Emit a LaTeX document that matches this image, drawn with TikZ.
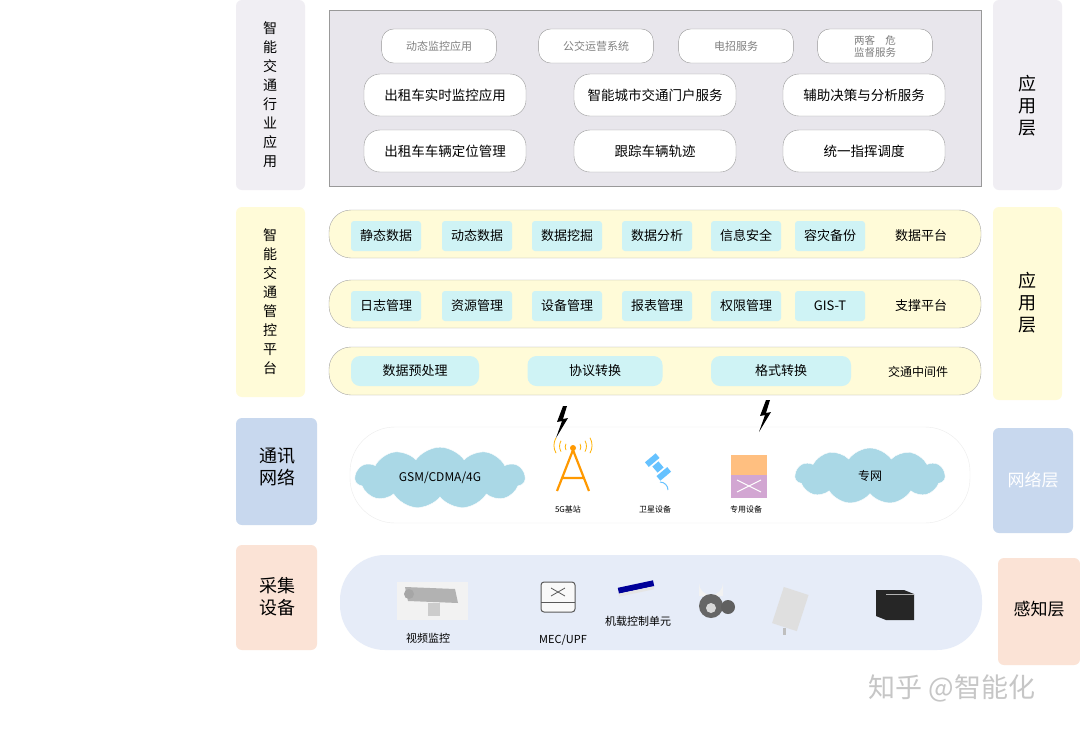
\documentclass[tikz,border=0pt]{standalone}
\usepackage{fontspec}
\setmainfont{Noto Sans CJK SC}
\usetikzlibrary{shapes.symbols,shapes.geometric}
\definecolor{sblue}{RGB}{200,216,238}
\definecolor{spink}{RGB}{251,227,214}
\definecolor{slav}{RGB}{240,238,243}
\definecolor{syel}{RGB}{255,251,216}
\definecolor{cyb}{RGB}{207,243,245}
\definecolor{cldc}{RGB}{170,216,230}
\definecolor{sense}{RGB}{230,236,248}
\definecolor{appbg}{RGB}{232,230,236}
\begin{document}
\begin{tikzpicture}[x=1pt,y=-1pt,
 side/.style={rounded corners=6pt,draw=none},
 lab/.style={font=\fontsize{15}{17}\selectfont,align=center},
 vlab/.style={font=\fontsize{14}{19}\selectfont,align=center},
 gpill/.style={draw=gray!80,fill=white,rounded corners=12pt,minimum height=34pt,text width=108pt,align=center,font=\fontsize{11}{13}\selectfont,text=gray},
 bpill/.style={draw=gray!80,fill=white,rounded corners=16pt,minimum height=42pt,minimum width=162pt,font=\fontsize{13.5}{15}\selectfont},
 row/.style={draw=gray!70,fill=syel,rounded corners=22pt},
 cy/.style={fill=cyb,rounded corners=3pt,minimum height=30pt,minimum width=70pt,font=\fontsize{13}{15}\selectfont},
 cyw/.style={cy,rounded corners=9pt},
 rl/.style={font=\fontsize{13}{15}\selectfont},
 cld/.style={cloud,cloud puffs=11,cloud puff arc=110,aspect=2.8,fill=cldc,draw=white,font=\fontsize{12}{14}\selectfont},
 small/.style={font=\fontsize{8}{10}\selectfont},
 capt/.style={font=\fontsize{11}{13}\selectfont}
]
\useasboundingbox (0,0) rectangle (1080,732);
\fill[white] (0,0) rectangle (1080,732);
% left side labels
\fill[side,fill=slav] (236,0) rectangle (305,190);
\node[vlab] (L1) at (270,95) {智\\能\\交\\通\\行\\业\\应\\用};
\fill[side,fill=syel] (236,207) rectangle (305,397);
\node[vlab] (L2) at (270,302) {智\\能\\交\\通\\管\\控\\平\\台};
\fill[side,fill=sblue] (236,418) rectangle (317,525);
\node[lab,font=\fontsize{18}{22}\selectfont] (L3) at (277,467) {通讯\\网络};
\fill[side,fill=spink] (236,545) rectangle (317,650);
\node[lab,font=\fontsize{18}{22}\selectfont] (L4) at (277,597) {采集\\设备};
% right side labels
\fill[side,fill=slav] (993,0) rectangle (1062,190);
\node[lab,font=\fontsize{18}{22}\selectfont] (R1) at (1027,106) {应\\用\\层};
\fill[side,fill=syel] (993,207) rectangle (1062,400);
\node[lab,font=\fontsize{18}{22}\selectfont] (R2) at (1027,303) {应\\用\\层};
\fill[side,fill=sblue] (993,428) rectangle (1073,533);
\node[lab,font=\fontsize{17}{20}\selectfont,text=white] (R3) at (1033,480) {网络层};
\fill[side,fill=spink] (998,558) rectangle (1080,665);
\node[lab,font=\fontsize{17}{20}\selectfont] (R4) at (1039,609) {感知层};
% application layer
\draw[gray!80,fill=appbg] (329,10) rectangle (981,186);
\node[gpill] (a1) at (439,46) {动态监控应用};
\node[gpill] (a2) at (596,46) {公交运营系统};
\node[gpill] (a3) at (736,46) {电招服务};
\node[gpill,font=\fontsize{10.5}{12}\selectfont] (a4) at (875,46) {两客\quad 危\\监督服务};
\node[bpill] (b1) at (445,95) {出租车实时监控应用};
\node[bpill] (b2) at (655,95) {智能城市交通门户服务};
\node[bpill] (b3) at (864,95) {辅助决策与分析服务};
\node[bpill] (c1) at (445,151) {出租车车辆定位管理};
\node[bpill] (c2) at (655,151) {跟踪车辆轨迹};
\node[bpill] (c3) at (864,151) {统一指挥调度};
% platform rows
\draw[row] (329,210) rectangle (981,258);
\foreach \x/\t/\n in {386/静态数据/p1,477/动态数据/p2,567/数据挖掘/p3,657/数据分析/p4,746/信息安全/p5,830/容灾备份/p6}
  \node[cy] (\n) at (\x,236) {\t};
\node[rl] (pl1) at (921,236) {数据平台};
\draw[row] (329,280) rectangle (981,328);
\foreach \x/\t/\n in {386/日志管理/q1,477/资源管理/q2,567/设备管理/q3,657/报表管理/q4,746/权限管理/q5,830/GIS-T/q6}
  \node[cy] (\n) at (\x,306) {\t};
\node[rl] (pl2) at (921,306) {支撑平台};
\draw[row] (329,347) rectangle (981,395);
\node[cyw,minimum width=128pt] (m1) at (415,371) {数据预处理};
\node[cyw,minimum width=135pt] (m2) at (595,371) {协议转换};
\node[cyw,minimum width=140pt] (m3) at (781,371) {格式转换};
\node[font=\fontsize{12}{14}\selectfont] (pl3) at (918,372) {交通中间件};
% network
\draw[gray!15,fill=white,rounded corners=45pt] (350,427) rectangle (970,523);
\foreach \x/\y in {563/406,766/400}
  \fill[black] (\x,\y) -- (\x-6,\y+16) -- (\x-1,\y+15) -- (\x-7,\y+32) -- (\x+5,\y+12) -- (\x,\y+13) -- (\x+4,\y) -- cycle;
\node[cld,minimum width=170pt,minimum height=60pt] (g1) at (440,478) {GSM/CDMA/4G};
\node[cld,minimum width=150pt,minimum height=56pt] (g2) at (870,476) {专网};
% tower
\coordinate (tw) at (573,448);
\draw[orange!80!yellow,line width=2.2pt] (573,450) -- (557,491) (573,450) -- (589,491) (563,478) -- (583,478);
\fill[orange!80!yellow] (tw) circle (3);
\foreach \r in {7,12,17}{
 \draw[orange!60!yellow,line width=0.8pt] (573-\r,448-\r*0.6) arc (210:150:\r*0.9);
 \draw[orange!60!yellow,line width=0.8pt] (573+\r,448-\r*0.6) arc (-30:30:\r*0.9);}
% satellite
\fill[blue!40!cyan!60,rotate around={-50:(658,467)}] (646,460) rectangle (652,474) (664,460) rectangle (670,474) (654,463) rectangle (662,471);
\draw[blue!40!cyan!60,line width=1pt] (660,482) arc (270:360:8);
% switch
\fill[violet!35] (731,455) rectangle (767,498);
\fill[orange!50] (731,455) rectangle (767,475);
\draw[white,line width=1pt] (737,480) -- (761,492) (737,492) -- (761,480);
\node[small] (s1) at (568,509) {5G基站};
\node[small] (s2) at (655,509) {卫星设备};
\node[small] (s3) at (746,509) {专用设备};
% sense
\fill[sense,rounded corners=45pt] (340,555) rectangle (982,650);
% camera
\fill[gray!10] (397,582) rectangle (468,620);
\fill[gray!60] (405,587) -- (455,589) -- (458,603) -- (408,601) -- cycle;
\fill[gray!40] (428,603) rectangle (440,616);
\fill[gray!70] (409,594) circle (5);
\node[capt] (v1) at (428,638) {视频监控};
% MEC
\draw[gray!70!black,fill=gray!5,rounded corners=3pt,line width=1pt] (541,582) rectangle (575,612);
\draw[gray!70!black] (541,602) -- (575,602);
\draw[gray!70!black,line width=0.8pt] (551,588) -- (565,596) (551,596) -- (565,588);
\node[capt] (v2) at (563,640) {MEC/UPF};
% onboard unit
\fill[blue!60!black,rotate around={12:(636,587)}] (618,584) rectangle (654,590);
\fill[gray!20,rotate around={12:(636,590)}] (618,590) rectangle (654,593);
\node[capt] (v3) at (638,621) {机载控制单元};
% dome camera
\fill[gray!10] (699,583) arc (180:0:12) -- (723,596) -- (699,596) -- cycle;
\fill[gray!80!black] (711,606) circle (12);
\fill[gray!30] (711,608) circle (5);
\fill[gray!75!black] (728,607) circle (7);
% antenna panel
\fill[gray!25,rotate around={-18:(790,610)}] (777,590) rectangle (803,628);
\fill[gray!50] (783,628) rectangle (786,635);
% server
\fill[black!85] (876,590) -- (904,590) -- (914,594) -- (914,620) -- (886,620) -- (876,616) -- cycle;
\fill[gray!60] (886,594) rectangle (914,595);
% watermark
\node[font=\fontsize{27}{30}\selectfont,text=gray!45] (wm) at (952,688) {知乎 @智能化};
\end{tikzpicture}
\end{document}
